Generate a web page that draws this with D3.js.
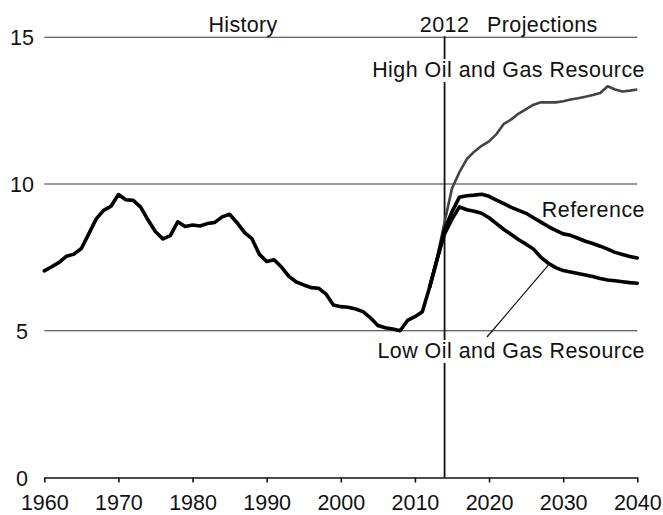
<!DOCTYPE html>
<html><head><meta charset="utf-8">
<script src="https://cdn.jsdelivr.net/npm/d3@7"></script>
<style>
body{margin:0;background:#fff}
svg{display:block}
text{font-family:"Liberation Sans",Arial,Helvetica,sans-serif;fill:#111}
</style>
</head><body><svg id="c" width="663" height="515"></svg>
<script>
// ---- data (million barrels per day) ----
const historyYears = d3.range(1960, 2013);
const historyValues = [7.04,7.18,7.33,7.54,7.61,7.80,8.30,8.81,9.10,9.24,
  9.64,9.46,9.44,9.21,8.77,8.37,8.13,8.24,8.71,8.55,
  8.60,8.57,8.65,8.69,8.88,8.97,8.68,8.35,8.14,7.61,
  7.36,7.42,7.17,6.85,6.66,6.56,6.47,6.45,6.25,5.88,
  5.82,5.80,5.74,5.65,5.44,5.18,5.10,5.06,5.00,5.35,
  5.48,5.65,6.50];
const projectionYears = d3.range(2012, 2041);
const referenceValues = [6.50,7.44,8.45,9.05,9.55,9.60,9.62,9.65,9.58,9.45,
  9.33,9.20,9.10,9.00,8.85,8.70,8.55,8.42,8.30,8.25,
  8.15,8.05,7.97,7.88,7.78,7.67,7.60,7.53,7.48];
const highValues = [6.50,7.50,8.70,9.85,10.40,10.85,11.10,11.30,11.45,11.70,
  12.05,12.20,12.40,12.55,12.70,12.78,12.78,12.78,12.82,12.88,
  12.92,12.97,13.03,13.10,13.33,13.22,13.15,13.18,13.22];
const lowValues = [6.50,7.44,8.30,8.80,9.22,9.12,9.07,9.00,8.85,8.65,
  8.45,8.28,8.10,7.95,7.78,7.50,7.30,7.15,7.05,7.00,
  6.95,6.90,6.85,6.78,6.73,6.70,6.67,6.64,6.62];
const xTicks = [1960,1970,1980,1990,2000,2010,2020,2030,2040];
const yTicks = [0,5,10,15];
const dividerYear = 2014;
const dividerLabel = "2012";
const leaderYear = 2028;

// ---- layout ----
const svg = d3.select("#c");
const x = d3.scaleLinear().domain([1960, 2040]).range([44.3, 637.3]);
const y = d3.scaleLinear().domain([0, 15]).range([477.5, 37.2]);

// gridlines
svg.append("g").selectAll("line").data(yTicks.filter(d => d > 0)).join("line")
  .attr("x1", x(1960)).attr("x2", x(2040))
  .attr("y1", d => y(d)).attr("y2", d => y(d))
  .attr("stroke", "#333").attr("stroke-width", 1.1);

// y labels
svg.append("g").selectAll("text").data(yTicks).join("text")
  .attr("x", 22).attr("y", d => y(d) + 8)
  .attr("text-anchor", "middle").attr("font-size", 21.5)
  .text(d => d);

// x axis
const xAxis = d3.axisBottom(x).tickValues(xTicks).tickFormat(d3.format("d"))
  .tickSize(5).tickSizeOuter(0).tickPadding(12);
const gx = svg.append("g").attr("transform", `translate(0,${y(0)})`).call(xAxis);
gx.select(".domain").attr("stroke", "#111").attr("stroke-width", 1.6);
gx.selectAll(".tick line").attr("stroke", "#111").attr("stroke-width", 1.6);
gx.selectAll(".tick text").attr("font-size", 21.5).attr("fill", "#111")
  .attr("font-family", '"Liberation Sans",Arial,sans-serif');

// divider line
svg.append("line")
  .attr("x1", x(dividerYear)).attr("x2", x(dividerYear))
  .attr("y1", y(15) - 1).attr("y2", y(0))
  .attr("stroke", "#111").attr("stroke-width", 1.8);

// series
const line = d3.line().x(d => x(d[0])).y(d => y(d[1])).curve(d3.curveLinear);
const hist = historyYears.map((yr, i) => [yr, historyValues[i]]);
const ref = projectionYears.map((yr, i) => [yr, referenceValues[i]]);
const high = projectionYears.map((yr, i) => [yr, highValues[i]]);
const low = projectionYears.map((yr, i) => [yr, lowValues[i]]);

svg.append("path").datum(high).attr("d", line)
  .attr("fill", "none").attr("stroke", "#444").attr("stroke-width", 2.6)
  .attr("stroke-linejoin", "round");
svg.append("path").datum(low).attr("d", line)
  .attr("fill", "none").attr("stroke", "#000").attr("stroke-width", 3.6)
  .attr("stroke-linejoin", "round").attr("stroke-linecap", "round");
svg.append("path").datum(ref).attr("d", line)
  .attr("fill", "none").attr("stroke", "#000").attr("stroke-width", 3.6)
  .attr("stroke-linejoin", "round").attr("stroke-linecap", "round");
svg.append("path").datum(hist).attr("d", line)
  .attr("fill", "none").attr("stroke", "#000").attr("stroke-width", 3.6)
  .attr("stroke-linejoin", "round").attr("stroke-linecap", "round");

// leader line for low label
svg.append("line")
  .attr("x1", x(leaderYear)).attr("y1", y(lowValues[projectionYears.indexOf(leaderYear)]) + 2)
  .attr("x2", 487).attr("y2", 337)
  .attr("stroke", "#111").attr("stroke-width", 1.2);

// labels
function label(txt, xx, yy, anchor, size, spacing, bg) {
  const t = svg.append("text").attr("x", xx).attr("y", yy)
    .attr("text-anchor", anchor).attr("font-size", size)
    .attr("letter-spacing", spacing).text(txt);
  if (bg) {
    const b = t.node().getBBox();
    svg.append("rect").attr("x", b.x - 2).attr("y", b.y + 1)
      .attr("width", b.width + 4).attr("height", b.height - 1).attr("fill", "#fff");
    t.raise();
  }
  return t;
}
label("History", 243, 32, "middle", 21.5, 0.3, false);
label(dividerLabel, x(dividerYear), 32, "middle", 21.5, 0.4, false);
label("Projections", 487, 32, "start", 21.5, 0.4, false);
label("High Oil and Gas Resource", 645, 77, "end", 21.4, 0.5, true);
label("Reference", 645, 217, "end", 21.4, 0.5, false);
label("Low Oil and Gas Resource", 645, 358, "end", 21.4, 0.5, true);
</script>
</body></html>
